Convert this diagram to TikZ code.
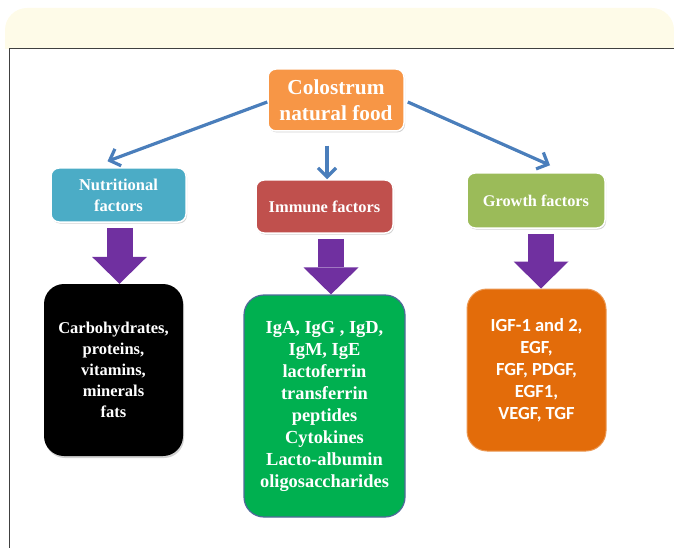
\documentclass[tikz,border=0pt]{standalone}
\usepackage{fontspec}
\setmainfont{Liberation Serif}
\newfontfamily\calibrifont{Carlito}
\usetikzlibrary{arrows.meta,shadows}

\definecolor{cream}{HTML}{FEFBE8}
\definecolor{framegray}{HTML}{404040}
\definecolor{lineblue}{HTML}{4A7EBB}
\definecolor{fatpurple}{HTML}{7030A0}
\definecolor{coloorange}{HTML}{F79646}
\definecolor{nutrblue}{HTML}{4BACC6}
\definecolor{immred}{HTML}{C0504D}
\definecolor{growgreen}{HTML}{9BBB59}
\definecolor{immgreen}{HTML}{00B050}
\definecolor{immborder}{HTML}{4F6A9A}
\definecolor{groworange}{HTML}{E36C0A}

\begin{document}
\begin{tikzpicture}[x=1pt, y=-1pt,
  topbox/.style = {shape=rectangle, rounded corners=8pt,
    draw=white, line width=1.5pt, text=white, align=center, inner sep=2pt,
    drop shadow={shadow xshift=1pt, shadow yshift=-1.5pt, opacity=0.35}},
  listbox/.style = {shape=rectangle, rounded corners=20pt,
    text=white, align=center, inner sep=2pt},
  blueline/.style = {draw=lineblue, line width=3.2pt,
    -{Straight Barb[length=9pt 0 0, width=18pt 0 0]}},
  fatarrow/.style = {draw=fatpurple, line width=26pt, shorten <=5pt,
    -{Triangle[length=27pt 0 0, width=55pt 0 0, line width=0pt, fill=fatpurple]}}]
  \useasboundingbox (0,0) rectangle (674,548);
  \fill[cream, rounded corners=22pt] (5,8) rectangle (674,120);
  \fill[white] (0,49) rectangle (674,548);
  \draw[framegray, line width=1pt] (9,548) -- (9,49) -- (674,49);

  \node[topbox, fill=coloorange, minimum width=136pt, minimum height=62pt,
    font=\bfseries\fontsize{21.3}{26}\selectfont] (colo) at (336,100)
    {Colostrum\\natural food};
  \node[topbox, fill=nutrblue, minimum width=135pt, minimum height=54pt,
    font=\bfseries\fontsize{16.5}{21}\selectfont] (nutr) at (118.5,195)
    {Nutritional\\factors};
  \node[topbox, fill=immred, minimum width=137pt, minimum height=53pt,
    font=\bfseries\fontsize{16.4}{21}\selectfont] (imm) at (324.5,206.5)
    {Immune factors};
  \node[topbox, fill=growgreen, minimum width=138pt, minimum height=55pt,
    font=\bfseries\fontsize{16.3}{21}\selectfont] (grow) at (536,200.5)
    {Growth factors};

  \node[listbox, fill=black, minimum width=139pt, minimum height=172pt,
    drop shadow={shadow xshift=1pt, shadow yshift=-2pt, opacity=0.35},
    font=\bfseries\fontsize{16.5}{21}\selectfont] (nutrlist) at (113.5,370)
    {Carbohydrates,\\proteins,\\vitamins,\\minerals\\fats};
  \node[listbox, fill=immgreen, draw=immborder, line width=1.2pt,
    minimum width=161pt, minimum height=222pt,
    font=\bfseries\fontsize{18.4}{22}\selectfont] (immlist) at (324.5,406)
    {IgA, IgG , IgD,\\IgM, IgE\\lactoferrin\\transferrin\\peptides\\Cytokines\\Lacto-albumin\\oligosaccharides};
  \node[listbox, fill=groworange, draw=groworange!70!white, line width=1pt,
    minimum width=139pt, minimum height=162pt,
    font=\calibrifont\bfseries\fontsize{18.5}{22}\selectfont] (growlist) at (536.5,370)
    {IGF-1 and 2,\\EGF,\\FGF, PDGF,\\EGF1,\\VEGF, TGF};

  \draw[blueline] ([yshift=-2pt]colo.west) -- ([xshift=-11pt, yshift=6pt]nutr.north);
  \draw[blueline] ([xshift=-9pt, yshift=-14pt]colo.south) -- ([xshift=2.5pt]imm.north);
  \draw[blueline] ([xshift=3pt, yshift=-2pt]colo.east) -- ([xshift=14pt, yshift=7pt]grow.north);

  \draw[fatarrow] ([xshift=1pt]nutr.south) -- ([xshift=1pt]nutr.south |- nutrlist.north);
  \draw[fatarrow] ([xshift=6.5pt]imm.south) -- ([xshift=6.5pt]imm.south |- immlist.north);
  \draw[fatarrow] ([xshift=5pt]grow.south) -- ([xshift=5pt]grow.south |- growlist.north);
\end{tikzpicture}
\end{document}
